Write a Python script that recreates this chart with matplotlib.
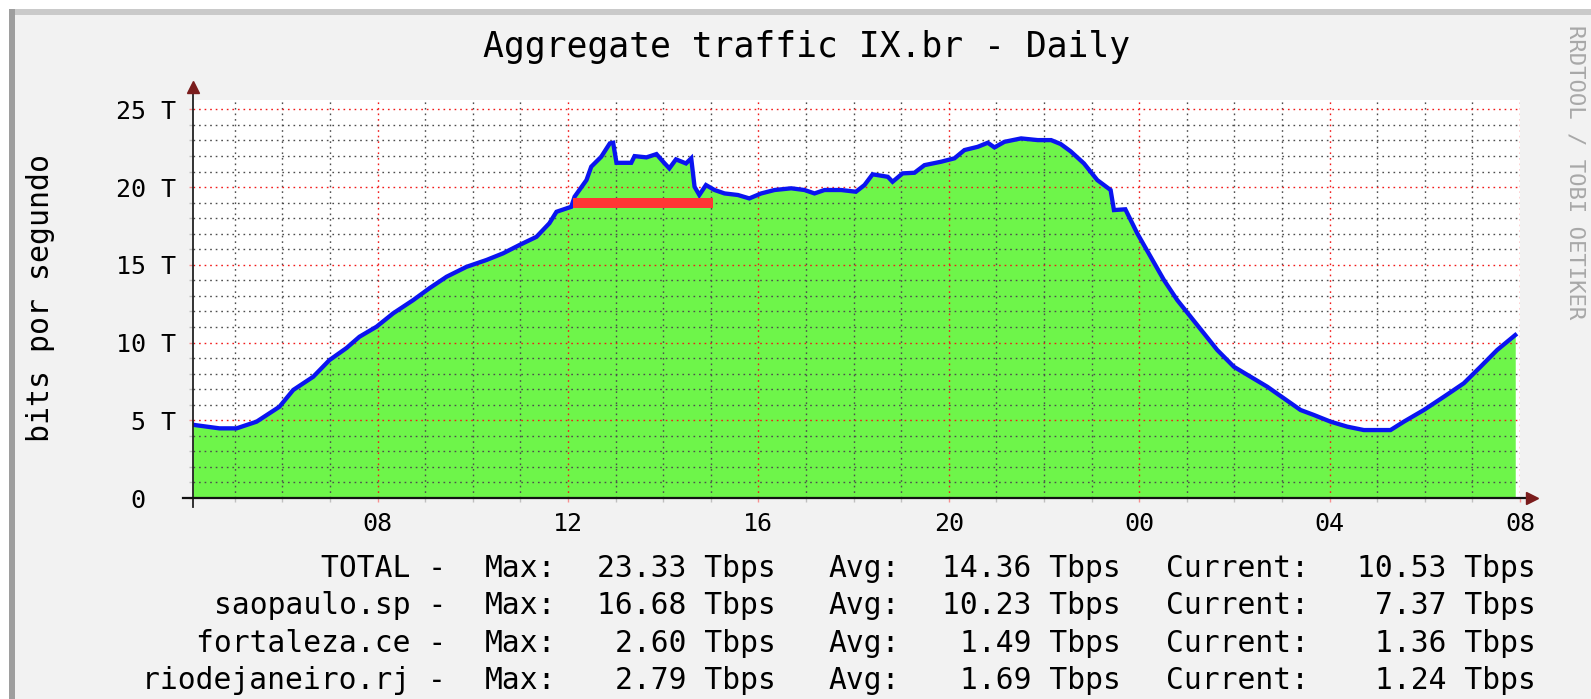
import matplotlib
matplotlib.use('Agg')
import matplotlib.pyplot as plt
from matplotlib.patches import Rectangle

# traffic curve (hours since 00:00 of day 1, Tbps)
hours = [4.12, 4.17, 4.68, 5.04, 5.46, 5.94, 6.23, 6.65, 6.99, 7.35, 7.62, 7.98,
         8.33, 8.75, 9.09, 9.45, 9.87, 10.29, 10.64, 10.98, 11.34, 11.61, 11.76,
         12.07, 12.14, 12.39, 12.49, 12.70, 12.88, 12.95, 13.02, 13.33, 13.40,
         13.65, 13.86, 14.00, 14.13, 14.27, 14.48, 14.59, 14.66, 14.76, 14.90,
         15.08, 15.29, 15.57, 15.81, 16.06, 16.34, 16.69, 16.97, 17.18, 17.39,
         17.74, 18.05, 18.23, 18.40, 18.72, 18.82, 19.03, 19.28, 19.49, 19.84,
         20.12, 20.33, 20.61, 20.82, 20.96, 21.17, 21.52, 21.87, 22.15, 22.35,
         22.56, 22.84, 23.12, 23.40, 23.47, 23.71, 23.96, 24.24, 24.52, 24.80,
         25.08, 25.36, 25.64, 25.99, 26.34, 26.69, 27.04, 27.39, 27.67, 28.02,
         28.37, 28.72, 29.28, 29.56, 29.98, 30.40, 30.82, 31.17, 31.52, 31.90]
total = [4.72, 4.69, 4.48, 4.48, 4.91, 5.87, 6.95, 7.80, 8.87, 9.65, 10.37, 11.02,
         11.88, 12.73, 13.49, 14.23, 14.87, 15.31, 15.74, 16.27, 16.80, 17.67, 18.41,
         18.73, 19.38, 20.45, 21.31, 21.95, 22.81, 22.85, 21.56, 21.56, 21.99,
         21.91, 22.12, 21.63, 21.20, 21.78, 21.52, 21.85, 20.02, 19.49, 20.13,
         19.81, 19.59, 19.49, 19.27, 19.59, 19.81, 19.92, 19.81, 19.59, 19.81,
         19.81, 19.70, 20.13, 20.82, 20.66, 20.34, 20.88, 20.92, 21.41, 21.63,
         21.85, 22.38, 22.59, 22.85, 22.55, 22.91, 23.13, 23.02, 23.02, 22.77,
         22.30, 21.52, 20.45, 19.81, 18.52, 18.57, 17.02, 15.52, 14.02, 12.73,
         11.66, 10.59, 9.52, 8.44, 7.80, 7.16, 6.41, 5.66, 5.34, 4.91,
         4.59, 4.37, 4.37, 4.91, 5.66, 6.51, 7.38, 8.44, 9.52, 10.48]

# red marker bar
red_start, red_end, red_level = 12.11, 15.05, 19.0

x_ticks = [8, 12, 16, 20, 24, 28, 32]
x_labels = ['08', '12', '16', '20', '00', '04', '08']
y_ticks = [0, 5, 10, 15, 20, 25]
y_labels = ['0  ', '5 T', '10 T', '15 T', '20 T', '25 T']

names = ['TOTAL', 'saopaulo.sp', 'fortaleza.ce', 'riodejaneiro.rj']
max_vals = [23.33, 16.68, 2.60, 2.79]
avg_vals = [14.36, 10.23, 1.49, 1.69]
cur_vals = [10.53, 7.37, 1.36, 1.24]

W, H = 1591, 699
MONO = 'DejaVu Sans Mono'
plt.rcParams['font.family'] = MONO


def fx(px):
    return px / W


def fy(py):
    return 1 - py / H


fig = plt.figure(figsize=(W / 100, H / 100), dpi=100, facecolor='white')
fig.patches.append(Rectangle((fx(9), 0), 1 - fx(9), fy(9), transform=fig.transFigure,
                             facecolor='#f2f2f2', edgecolor='none', zorder=-10))
fig.patches.append(Rectangle((fx(9), fy(15)), 1 - fx(9), fy(9) - fy(15), transform=fig.transFigure,
                             facecolor='#cacaca', edgecolor='none', zorder=-9))
fig.patches.append(Rectangle((fx(9), 0), fx(15) - fx(9), fy(9), transform=fig.transFigure,
                             facecolor='#9e9e9e', edgecolor='none', zorder=-9))

x0, x1 = 4.12, 32.0
ax = fig.add_axes([fx(192.8), fy(498), fx(1520) - fx(192.8), fy(100) - fy(498)])
ax.set_zorder(1)
ax.set_xlim(x0, x1)
ax.set_ylim(0, 25.6)
ax.set_facecolor('white')
for s in ax.spines.values():
    s.set_visible(False)

ax.fill_between(hours, total, 0, color='#6ef54a', lw=0, zorder=1)
ax.plot(hours, total, color='#0a14f0', lw=3.1, zorder=3, solid_joinstyle='miter')
ax.plot([red_start, red_end], [red_level, red_level], color='#ff3535', lw=7.2,
        solid_capstyle='butt', zorder=3)

ax.set_xticks(x_ticks)
ax.set_xticklabels(x_labels)
ax.set_xticks(range(5, 32), minor=True)
ax.set_yticks(y_ticks)
ax.set_yticklabels(y_labels)
ax.set_yticks(range(1, 26), minor=True)
ax.set_axisbelow(False)
ax.grid(which='major', color=(0.95, 0.1, 0.1, 0.32), lw=1.0, linestyle=(0, (1.2, 2.8)))
ax.grid(which='minor', color=(0.3, 0.3, 0.3, 0.2), lw=1.0, linestyle=(0, (1.2, 2.8)))
ax.tick_params(which='major', length=3, width=1, color=(1, 0, 0, 0.4), labelsize=18)
ax.tick_params(which='minor', length=3, width=1, color=(0.3, 0.3, 0.3, 0.3))
ax.tick_params(axis='y', which='major', pad=9)
ax.tick_params(axis='x', which='major', pad=7)

# axes with arrows
arrow_c = '#7a1c1c'
ax.plot([x0, x0], [-0.6, 26.2], color='#222222', lw=1.3, clip_on=False, zorder=4)
ax.plot([3.91, 32.2], [0, 0], color='#111111', lw=1.6, clip_on=False, zorder=4)
ax.plot(x0, 26.45, marker='^', ms=9, color=arrow_c, clip_on=False, zorder=5)
ax.plot(32.25, 0, marker='>', ms=9, color=arrow_c, clip_on=False, zorder=5)

fig.text(fx(807), fy(57), 'Aggregate traffic IX.br - Daily', ha='center', va='baseline',
         fontsize=25)
fig.text(fx(41), fy(298), 'bits por segundo', rotation=90, ha='center', va='center',
         fontsize=21.5)
fig.text(fx(1575), fy(172), 'RRDTOOL / TOBI OETIKER', rotation=270, ha='center', va='center',
         fontsize=16, color='#a8a8a8')

# legend rows
for i, name in enumerate(names):
    yb = fy(577 + 37.3 * i)
    kw = dict(va='baseline', fontsize=21.3)
    fig.text(fx(446), yb, name + ' -', ha='right', **kw)
    fig.text(fx(485), yb, 'Max:', ha='left', **kw)
    fig.text(fx(776), yb, f'{max_vals[i]:.2f} Tbps', ha='right', **kw)
    fig.text(fx(828), yb, 'Avg:', ha='left', **kw)
    fig.text(fx(1121), yb, f'{avg_vals[i]:.2f} Tbps', ha='right', **kw)
    fig.text(fx(1166), yb, 'Current:', ha='left', **kw)
    fig.text(fx(1536), yb, f'{cur_vals[i]:.2f} Tbps', ha='right', **kw)

fig.savefig('out.png', dpi=100, facecolor=fig.get_facecolor())
